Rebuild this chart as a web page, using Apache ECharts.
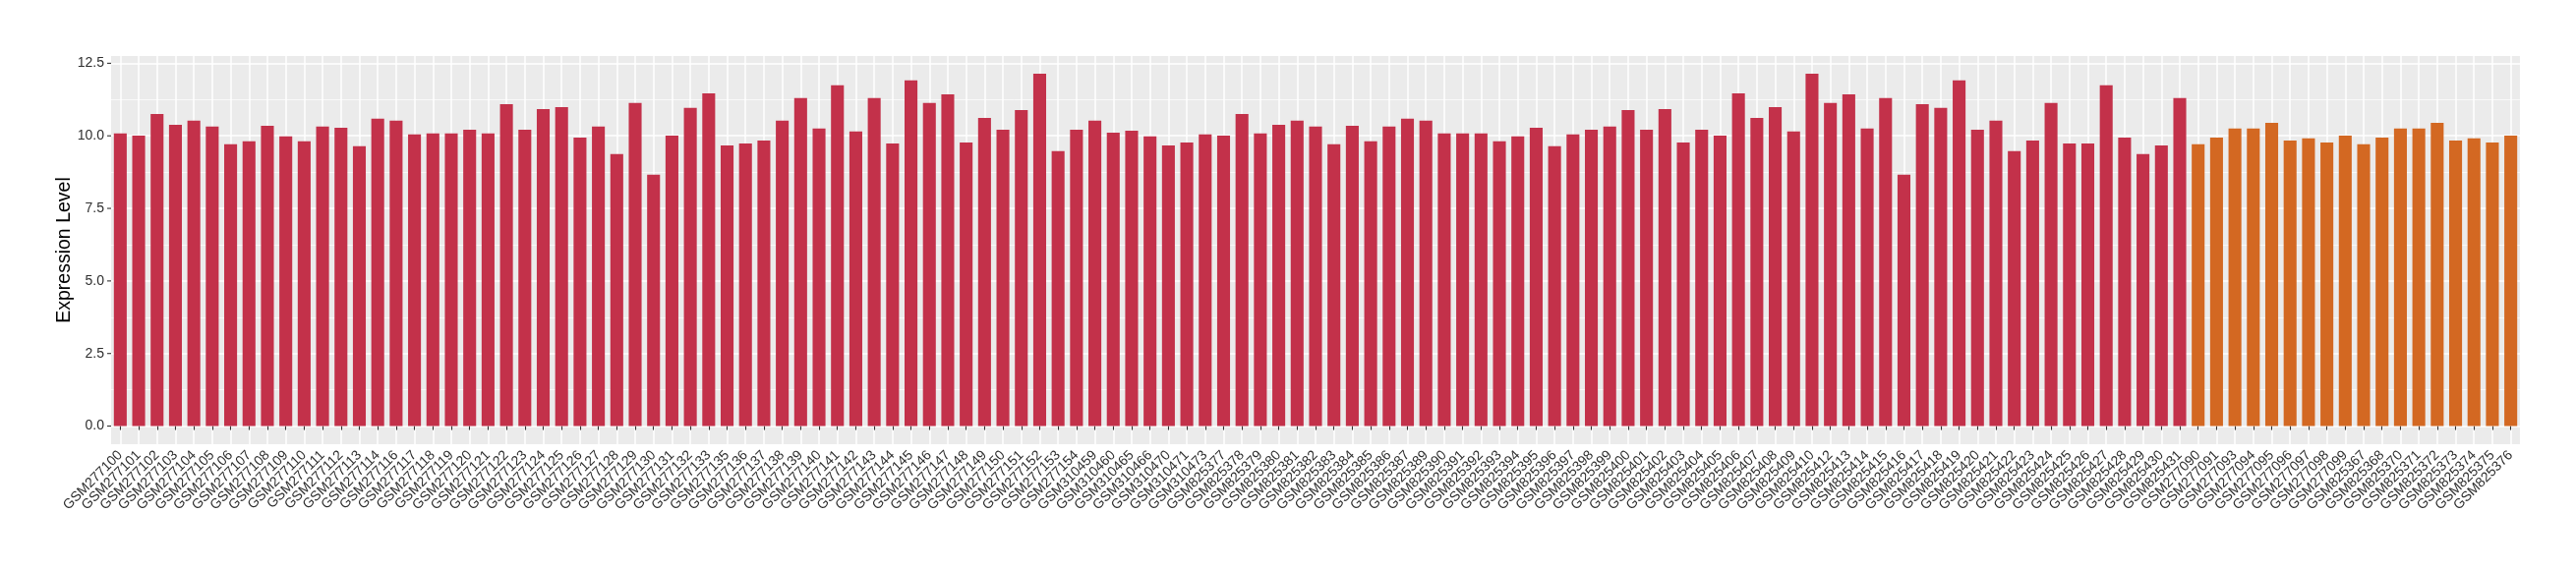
<!DOCTYPE html>
<html>
<head>
<meta charset="utf-8">
<script src="https://cdn.jsdelivr.net/npm/echarts@6/dist/echarts.min.js"></script>
<style>
html,body{margin:0;padding:0;background:#ffffff;}
#chart{width:2620px;height:580px;}
</style>
</head>
<body>
<div id="chart"></div>
<script>
// ---- data ----
const redSamples = [
 'GSM277100','GSM277101','GSM277102','GSM277103','GSM277104','GSM277105','GSM277106','GSM277107','GSM277108','GSM277109',
 'GSM277110','GSM277111','GSM277112','GSM277113','GSM277114','GSM277116','GSM277117','GSM277118','GSM277119','GSM277120',
 'GSM277121','GSM277122','GSM277123','GSM277124','GSM277125','GSM277126','GSM277127','GSM277128','GSM277129','GSM277130',
 'GSM277131','GSM277132','GSM277133','GSM277135','GSM277136','GSM277137','GSM277138','GSM277139','GSM277140','GSM277141',
 'GSM277142','GSM277143','GSM277144','GSM277145','GSM277146','GSM277147','GSM277148','GSM277149','GSM277150','GSM277151',
 'GSM277152','GSM277153','GSM277154','GSM310459','GSM310460','GSM310465','GSM310466','GSM310470','GSM310471','GSM310473',
 'GSM825377','GSM825378','GSM825379','GSM825380','GSM825381','GSM825382','GSM825383','GSM825384','GSM825385','GSM825386',
 'GSM825387','GSM825389','GSM825390','GSM825391','GSM825392','GSM825393','GSM825394','GSM825395','GSM825396','GSM825397',
 'GSM825398','GSM825399','GSM825400','GSM825401','GSM825402','GSM825403','GSM825404','GSM825405','GSM825406','GSM825407',
 'GSM825408','GSM825409','GSM825410','GSM825412','GSM825413','GSM825414','GSM825415','GSM825416','GSM825417','GSM825418',
 'GSM825419','GSM825420','GSM825421','GSM825422','GSM825423','GSM825424','GSM825425','GSM825426','GSM825427','GSM825428',
 'GSM825429','GSM825430','GSM825431'
];
const redValues = [
 10.08,10.01,10.75,10.38,10.52,10.32,9.71,9.81,10.35,9.98,
 9.81,10.32,10.28,9.64,10.59,10.52,10.05,10.08,10.08,10.21,
 10.08,11.09,10.21,10.92,10.99,9.94,10.32,9.37,11.13,8.66,
 10.01,10.96,11.46,9.67,9.74,9.84,10.52,11.30,10.25,11.74,
 10.15,11.30,9.74,11.91,11.13,11.43,9.77,10.62,10.21,10.89,
 12.14,9.47,10.21,10.52,10.11,10.18,9.98,9.67,9.77,10.05,
 10.01,10.75,10.08,10.38,10.52,10.32,9.71,10.35,9.81,10.32,
 10.59,10.52,10.08,10.08,10.08,9.81,9.98,10.28,9.64,10.05,
 10.21,10.32,10.89,10.21,10.92,9.77,10.21,10.01,11.46,10.62,
 10.99,10.15,12.14,11.13,11.43,10.25,11.30,8.66,11.09,10.96,
 11.91,10.21,10.52,9.47,9.84,11.13,9.74,9.74,11.74,9.94,
 9.37,9.67,11.30
];
const orangeSamples = [
 'GSM277090','GSM277091','GSM277093','GSM277094','GSM277095','GSM277096','GSM277097','GSM277098','GSM277099',
 'GSM825367','GSM825368','GSM825370','GSM825371','GSM825372','GSM825373','GSM825374','GSM825375','GSM825376'
];
const orangeValues = [
 9.71,9.94,10.25,10.25,10.45,9.84,9.91,9.77,10.01,
 9.71,9.94,10.25,10.25,10.45,9.84,9.91,9.77,10.01
];
const yTickValues = [0, 2.5, 5, 7.5, 10, 12.5];
const yTitle = 'Expression Level';

// ---- build ----
const categories = redSamples.concat(orangeSamples);
const redData = redValues.concat(orangeSamples.map(() => null));
const orangeData = redSamples.map(() => null).concat(orangeValues);

const FONT = '"Liberation Sans", Arial, Helvetica, sans-serif';
const T = 'rgba(0,0,0,0)';
const isMajor = v => yTickValues.some(t => Math.abs(t - v) < 1e-6);

const chart = echarts.init(document.getElementById('chart'), null, {renderer: 'canvas'});
chart.setOption({
  animation: false,
  backgroundColor: '#FFFFFF',
  textStyle: {fontFamily: FONT},
  grid: {
    left: 113, right: 57, top: 57, bottom: 128,
    show: true, backgroundColor: '#EBEBEB', borderWidth: 0
  },
  xAxis: {
    type: 'category',
    data: categories,
    boundaryGap: true,
    axisLine: {show: false},
    axisTick: {show: true, alignWithLabel: true, length: 4, lineStyle: {color: '#333333', width: 1.1}},
    splitLine: {show: true, alignWithLabel: true, lineStyle: {color: '#FFFFFF', width: 1.5}},
    axisLabel: {
      interval: 0, rotate: 45, margin: 9,
      fontSize: 14, color: '#2E2E2E', fontFamily: FONT
    }
  },
  yAxis: [{
    type: 'value',
    min: -0.625, max: 12.75, interval: 0.625,
    name: yTitle,
    nameLocation: 'middle', nameRotate: 90, nameGap: 37,
    nameMoveOverlap: false,
    nameTextStyle: {fontSize: 19.5, color: '#000000', fontFamily: FONT},
    axisLine: {show: false},
    axisTick: {show: false},
    splitLine: {show: true, lineStyle: {color: [T, '#FFFFFF', T, T], width: 1.5}},
    axisLabel: {
      margin: 0,
      formatter: v => isMajor(v) ? '{a|' + v.toFixed(1) + '}{t|}' : '',
      rich: {
        a: {fontSize: 14, color: '#2E2E2E', fontFamily: FONT, padding: [0, 3, 0, 0], verticalAlign: 'middle'},
        t: {width: 4, height: 1.1, backgroundColor: '#333333', verticalAlign: 'middle'}
      }
    }
  }, {
    type: 'value',
    position: 'left',
    min: -0.625, max: 12.75, interval: 0.625,
    axisLine: {show: false},
    axisTick: {show: false},
    axisLabel: {show: false},
    splitLine: {show: true, lineStyle: {color: [T, T, T, '#FFFFFF'], width: 0.7}}
  }],
  series: [{
    name: 'group1', type: 'bar', data: redData,
    barWidth: '70%', barGap: '-100%',
    itemStyle: {color: '#C3314A'}, z: 3
  }, {
    name: 'group2', type: 'bar', data: orangeData,
    barWidth: '70%', barGap: '-100%',
    itemStyle: {color: '#D36822'}, z: 3
  }]
});
</script>
</body>
</html>
